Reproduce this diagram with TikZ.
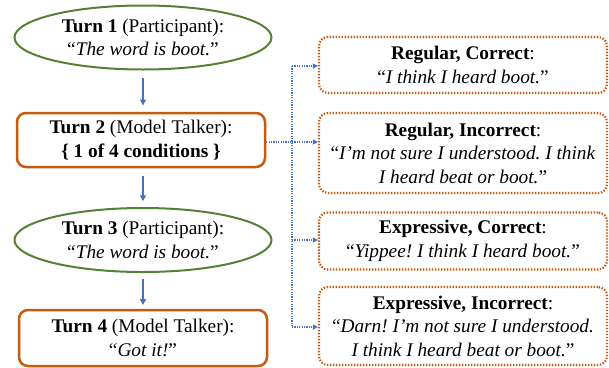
\documentclass[tikz,border=0pt]{standalone}
\usepackage{fontspec}
\setmainfont{Liberation Serif}
\usetikzlibrary{shapes.geometric,arrows.meta}
\definecolor{tgreen}{RGB}{84,130,53}
\definecolor{torange}{RGB}{197,90,17}
\definecolor{tblue}{RGB}{68,114,196}
\frenchspacing
\tikzset{
  txt/.style={align=center,font=\fontsize{19.3}{23.5}\selectfont,inner sep=0pt},
  partic/.style={txt,ellipse,draw=tgreen,line width=2pt,minimum width=257pt,minimum height=64pt},
  talker/.style={txt,draw=torange,line width=2.5pt,rounded corners=9pt,minimum width=248pt,minimum height=54pt},
  cond/.style={txt,draw=torange,line width=2.2pt,dash pattern=on 1.4pt off 1.6pt,rounded corners=9pt,minimum width=288pt},
  flow/.style={draw=tblue,line width=1.3pt,-{Triangle[length=6pt,width=6pt]}},
  branch/.style={draw=tblue,line width=1.2pt,dash pattern=on 1.2pt off 1.2pt},
  barrow/.style={branch,-{Triangle[length=5pt,width=5pt]}}
}
\begin{document}
\begin{tikzpicture}[x=1pt,y=-1pt]
\useasboundingbox (0,0) rectangle (609,367);
\node[partic] (t1) at (143,37.5) {\textbf{Turn 1} (Participant):\\``\textit{The word is boot.}''};
\node[talker] (t2) at (141,140) {\textbf{Turn 2} (Model Talker):\\\textbf{\{ 1 of 4 conditions \}}};
\node[partic] (t3) at (143,240) {\textbf{Turn 3} (Participant):\\``\textit{The word is boot.}''};
\node[talker,minimum height=56pt] (t4) at (143,338) {\textbf{Turn 4} (Model Talker):\\``\textit{Got it!}''};
\node[cond,minimum height=56pt] (rc) at (463,65) {\textbf{Regular, Correct}:\\``\textit{I think I heard boot.}''};
\node[cond,minimum height=80pt] (ri) at (463,153) {\textbf{Regular, Incorrect}:\\``\textit{I'm not sure I understood. I think}\\\textit{I heard beat or boot.}''};
\node[cond,minimum height=57pt] (ec) at (463,241) {\textbf{Expressive, Correct}:\\``\textit{Yippee! I think I heard boot.}''};
\node[cond,minimum height=78pt] (ei) at (463,326) {\textbf{Expressive, Incorrect}:\\``\textit{Darn! I'm not sure I understood.}\\\textit{I think I heard beat or boot.}''};
\draw[flow] (t1.south) ++(0,7) -- ++(0,28);
\draw[flow] (t2.south) ++(2,8) -- ++(0,25);
\draw[flow] (t3.south) ++(0,6) -- ++(0,26);
\coordinate (j) at (292,142);
\coordinate (jt) at (292,66);
\coordinate (jc) at (292,240);
\coordinate (jb) at (292,327);
\draw[branch] (t2.east |- j) -- (j);
\draw[branch] (jt) -- (jb);
\draw[barrow] (jt) -- (rc.west |- jt);
\draw[barrow] (j) -- (ri.west |- j);
\draw[barrow] (jc) -- (ec.west |- jc);
\draw[barrow] (jb) -- (ei.west |- jb);
\end{tikzpicture}
\end{document}
